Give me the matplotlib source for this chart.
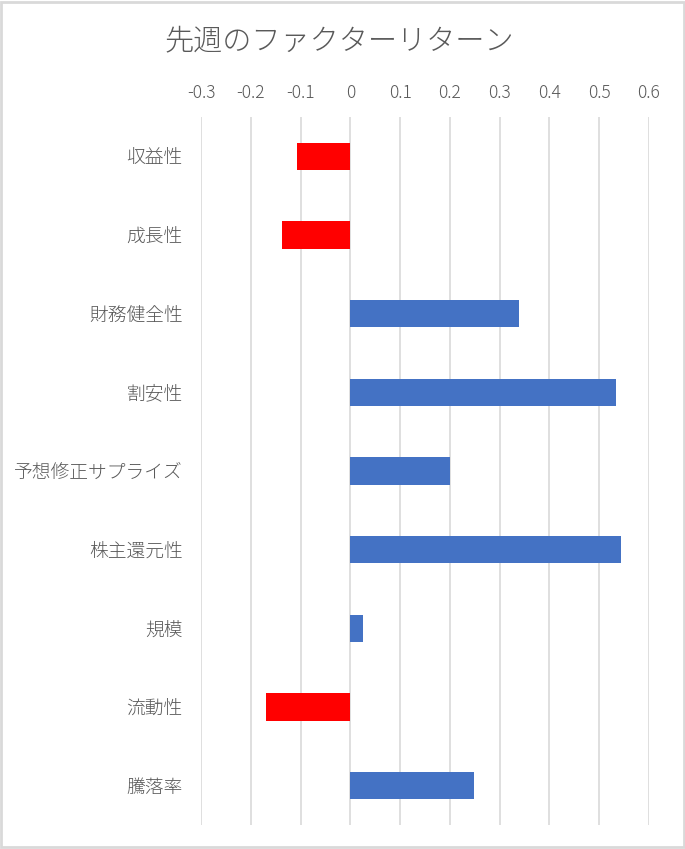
import matplotlib
matplotlib.use("Agg")
import matplotlib.pyplot as plt
from matplotlib.patches import Rectangle

plt.rcParams['font.family'] = ['Noto Sans CJK JP', 'DejaVu Sans']

## Data
factors = ['収益性', '成長性', '財務健全性', '割安性', '予想修正サプライズ',
           '株主還元性', '規模', '流動性', '騰落率']
returns = [-0.108, -0.138, 0.339, 0.533, 0.200, 0.543, 0.026, -0.170, 0.248]
xticks = [-0.3, -0.2, -0.1, 0, 0.1, 0.2, 0.3, 0.4, 0.5, 0.6]
title = '先週のファクターリターン'

# Colours: red for negative, blue for positive
colors = ['#FF0000' if v < 0 else '#4472C4' for v in returns]
textColor = '#595959'
gridColor = '#D9D9D9'

fig = plt.figure(figsize=(6.85, 8.49), dpi=100)
ax = fig.add_axes([0.2934, 0.0283, 0.6540, 0.8339])

pos = list(range(len(factors)))
ax.barh(pos, returns, height=0.35, color=colors, zorder=3)

ax.set_ylim(len(factors) - 0.5, -0.5)
ax.set_xlim(-0.3, 0.6)
ax.set_yticks(pos)
ax.set_yticklabels(factors, fontsize=13.5, color=textColor, fontweight='light')
ax.set_xticks(xticks)
ax.set_xticklabels([('%g' % t) for t in xticks], fontsize=12.5, color=textColor,
                   fontweight='light')
ax.xaxis.tick_top()
ax.tick_params(axis='both', length=0)
ax.tick_params(axis='x', pad=11)
ax.tick_params(axis='y', pad=13)

ax.grid(axis='x', color=gridColor, linewidth=1.2, zorder=0)
for s in ax.spines.values():
    s.set_visible(False)

fig.text(0.495, 0.951, title, ha='center', va='center', fontsize=21, color=textColor,
         fontweight='light')

# chart frame
fig.patches.append(Rectangle((0.002, 0.002), 0.996, 0.996, transform=fig.transFigure,
                             fill=False, edgecolor='#D9D9D9', linewidth=2))

fig.savefig('out.png', dpi=100)
